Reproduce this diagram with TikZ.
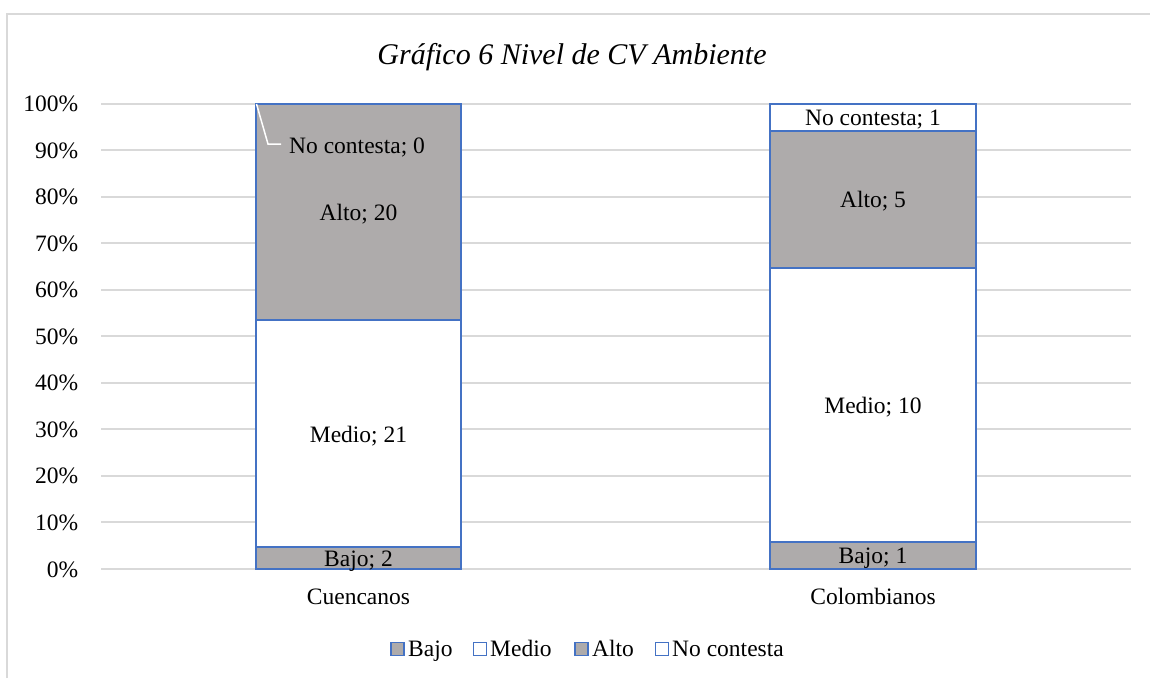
\documentclass[tikz,border=0pt]{standalone}
\usepackage{fontspec}
\setmainfont{Liberation Serif}
\definecolor{gridc}{HTML}{D9D9D9}
\definecolor{barblue}{HTML}{4472C4}
\definecolor{bargray}{HTML}{AEABAB}
\begin{document}
\begin{tikzpicture}[x=1pt,y=-1pt,
  lbl/.style={inner sep=0pt,font=\fontsize{23.5}{28}\selectfont,text=black},
  gridline/.style={draw=gridc,line width=2pt},
  grayseg/.style={fill=bargray,draw=barblue,line width=2pt},
  whiteseg/.style={fill=white,draw=barblue,line width=2pt},
  legsq/.style={line width=1.8pt}]
\useasboundingbox (0,0) rectangle (1150,678);
\fill[white] (0,0) rectangle (1150,678);
% frame
\draw[gridc,line width=2pt] (7,678) -- (7,14) -- (1150,14);
% title
\node[lbl,font=\fontsize{30}{36}\selectfont\itshape,anchor=base] (title) at (572,64) {Gráfico 6 Nivel de CV Ambiente};
% grid and axis labels
\foreach \k in {0,...,10}{
  \pgfmathsetmacro\yk{569-46.55*\k}
  \pgfmathtruncatemacro\p{\k*10}
  \draw[gridline] (101,\yk) -- (1131,\yk);
  \node[lbl,anchor=base east] (ax\k) at (78.5,\yk+8) {\p\%};
}
% Cuencanos bar
\draw[grayseg] (256,569) rectangle (461,547.35);
\draw[whiteseg] (256,547.35) rectangle (461,320.0);
\draw[grayseg] (256,320.0) rectangle (461,103.5);
% Colombianos bar
\draw[grayseg] (770,569) rectangle (976,541.6);
\draw[whiteseg] (770,541.6) rectangle (976,267.8);
\draw[grayseg] (770,267.8) rectangle (976,130.9);
\draw[whiteseg] (770,130.9) rectangle (976,103.5);
% data labels Cuencanos
\node[lbl,anchor=base west] (nc0) at (289,153.5) {No contesta; 0};
\node[lbl,anchor=base] (a20) at (358.5,220) {Alto; 20};
\node[lbl,anchor=base] (m21) at (358.5,442) {Medio; 21};
\node[lbl,anchor=base] (b2) at (358.5,566) {Bajo; 2};
\coordinate (topc) at (256.5,104);
\coordinate (bend) at (268,144);
\draw[white,line width=1.5pt] (topc) -- (bend) -- ([xshift=-8pt]nc0.west |- bend);
% data labels Colombianos
\node[lbl,anchor=base] (nc1) at (873,125) {No contesta; 1};
\node[lbl,anchor=base] (a5) at (873,207.5) {Alto; 5};
\node[lbl,anchor=base] (m10) at (873,413) {Medio; 10};
\node[lbl,anchor=base] (b1) at (873,563) {Bajo; 1};
% category labels
\node[lbl,anchor=base] (cat1) at (358.5,604.3) {Cuencanos};
\node[lbl,anchor=base] (cat2) at (873,604.3) {Colombianos};
% legend
\draw[legsq,fill=bargray,draw=barblue] (391,642.5) rectangle (404,655.5);
\node[lbl,anchor=base west] (lg1) at (408,656) {Bajo};
\draw[legsq,fill=white,draw=barblue] (473.5,642.5) rectangle (486.5,655.5);
\node[lbl,anchor=base west] (lg2) at (490,656) {Medio};
\draw[legsq,fill=bargray,draw=barblue] (575,642.5) rectangle (588,655.5);
\node[lbl,anchor=base west] (lg3) at (592,656) {Alto};
\draw[legsq,fill=white,draw=barblue] (655.5,642.5) rectangle (668.5,655.5);
\node[lbl,anchor=base west] (lg4) at (672,656) {No contesta};
\end{tikzpicture}
\end{document}
